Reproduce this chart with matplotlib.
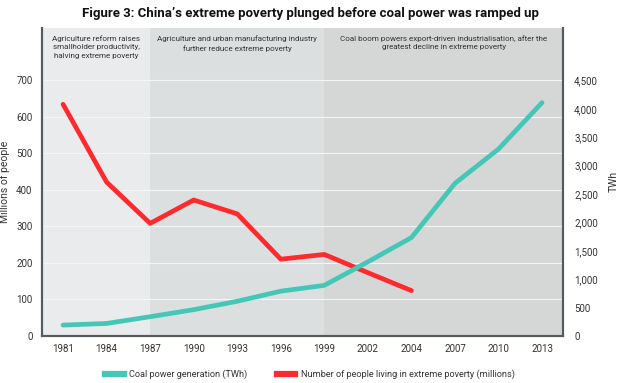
import matplotlib
matplotlib.use("Agg")
import matplotlib.pyplot as plt
from matplotlib.lines import Line2D

years = ["1981", "1984", "1987", "1990", "1993", "1996", "1999", "2002", "2004", "2007", "2010", "2013"]
poverty = [634, 421, 308, 372, 334, 210, 223, 173, 124]
coal = [190, 219, 338, 462, 610, 788, 890, 1305, 1732, 2687, 3292, 4110]
phase_starts = ["1981", "1987", "1999"]
phase_texts = [
    "Agriculture reform raises\nsmallholder productivity,\nhalving extreme poverty",
    "Agriculture and urban manufacturing industry\nfurther reduce extreme poverty",
    "Coal boom powers export-driven industrialisation, after the\ngreatest decline in extreme poverty",
]
phase_colors = ["#e9ebec", "#dcdfe0", "#d5d7d7"]
left_ticks = [0, 100, 200, 300, 400, 500, 600, 700]
right_ticks = [0, 500, 1000, 1500, 2000, 2500, 3000, 3500, 4000, 4500]

FONT = ["Roboto", "DejaVu Sans"]
plt.rcParams["font.family"] = FONT

RED = "#ff2a2e"
TEAL = "#45c7b8"
SPINE = "#555a5e"
TXT = "#333333"

fig = plt.figure(figsize=(6.2, 3.83), dpi=100)
ax = fig.add_axes([0.068, 0.123, 0.840, 0.804])
ax2 = ax.twinx()

x = list(range(len(years)))
xmin, xmax = -0.48, len(years) - 1 + 0.48
ax.set_xlim(xmin, xmax)
ax.set_ylim(0, 843)
ax2.set_ylim(0, 5425)

# phase shading
bounds = [xmin] + [years.index(y) for y in phase_starts[1:]] + [xmax]
for i in range(3):
    ax.axvspan(bounds[i], bounds[i + 1], color=phase_colors[i], zorder=0, lw=0)
    ax.text((bounds[i] + bounds[i + 1]) / 2, 824, phase_texts[i], ha="center", va="top",
            fontsize=5.8, color=TXT, linespacing=1.55, zorder=3)

ax.set_yticks(left_ticks)
ax.yaxis.grid(True, color="#f4f5f5", lw=0.8, zorder=1)
ax.set_axisbelow(True)

ax.plot(x[:len(poverty)], poverty, color=RED, lw=3.4, solid_capstyle="round", zorder=5)
ax2.plot(x[:len(coal)], coal, color=TEAL, lw=3.4, solid_capstyle="round", zorder=4)
ax2.set_yticks(right_ticks)
ax2.set_yticklabels([f"{v:,}" for v in right_ticks])

ax.set_xticks(x)
ax.set_xticklabels(years)

for a in (ax, ax2):
    a.tick_params(axis="both", length=0, labelsize=7, colors=TXT)
    a.spines["top"].set_visible(False)
    for s in ("left", "right", "bottom"):
        a.spines[s].set_color(SPINE)
        a.spines[s].set_linewidth(1.5)
ax.tick_params(axis="y", pad=7)
ax.tick_params(axis="x", pad=6)
ax2.tick_params(axis="y", pad=8)

ax.set_ylabel("Millions of people", fontsize=7.5, color=TXT)
ax.yaxis.set_label_coords(-0.062, 0.5)
ax2.set_ylabel("TWh", fontsize=7.5, color=TXT, labelpad=8)

fig.text(0.5, 0.965, "Figure 3: China\u2019s extreme poverty plunged before coal power was ramped up",
         ha="center", va="center", fontsize=9.5, fontweight="bold", color="#111111")

handles = [Line2D([0], [0], color=TEAL, lw=4.5), Line2D([0], [0], color=RED, lw=4.5)]
labels = ["Coal power generation (TWh)", "Number of people living in extreme poverty (millions)"]
fig.legend(handles, labels, loc="center", bbox_to_anchor=(0.5, 0.022), ncol=2, frameon=False,
           fontsize=6.6, handlelength=2.0, columnspacing=3.2, handletextpad=0.6,
           labelcolor=TXT)

fig.savefig("out.png", dpi=100)
